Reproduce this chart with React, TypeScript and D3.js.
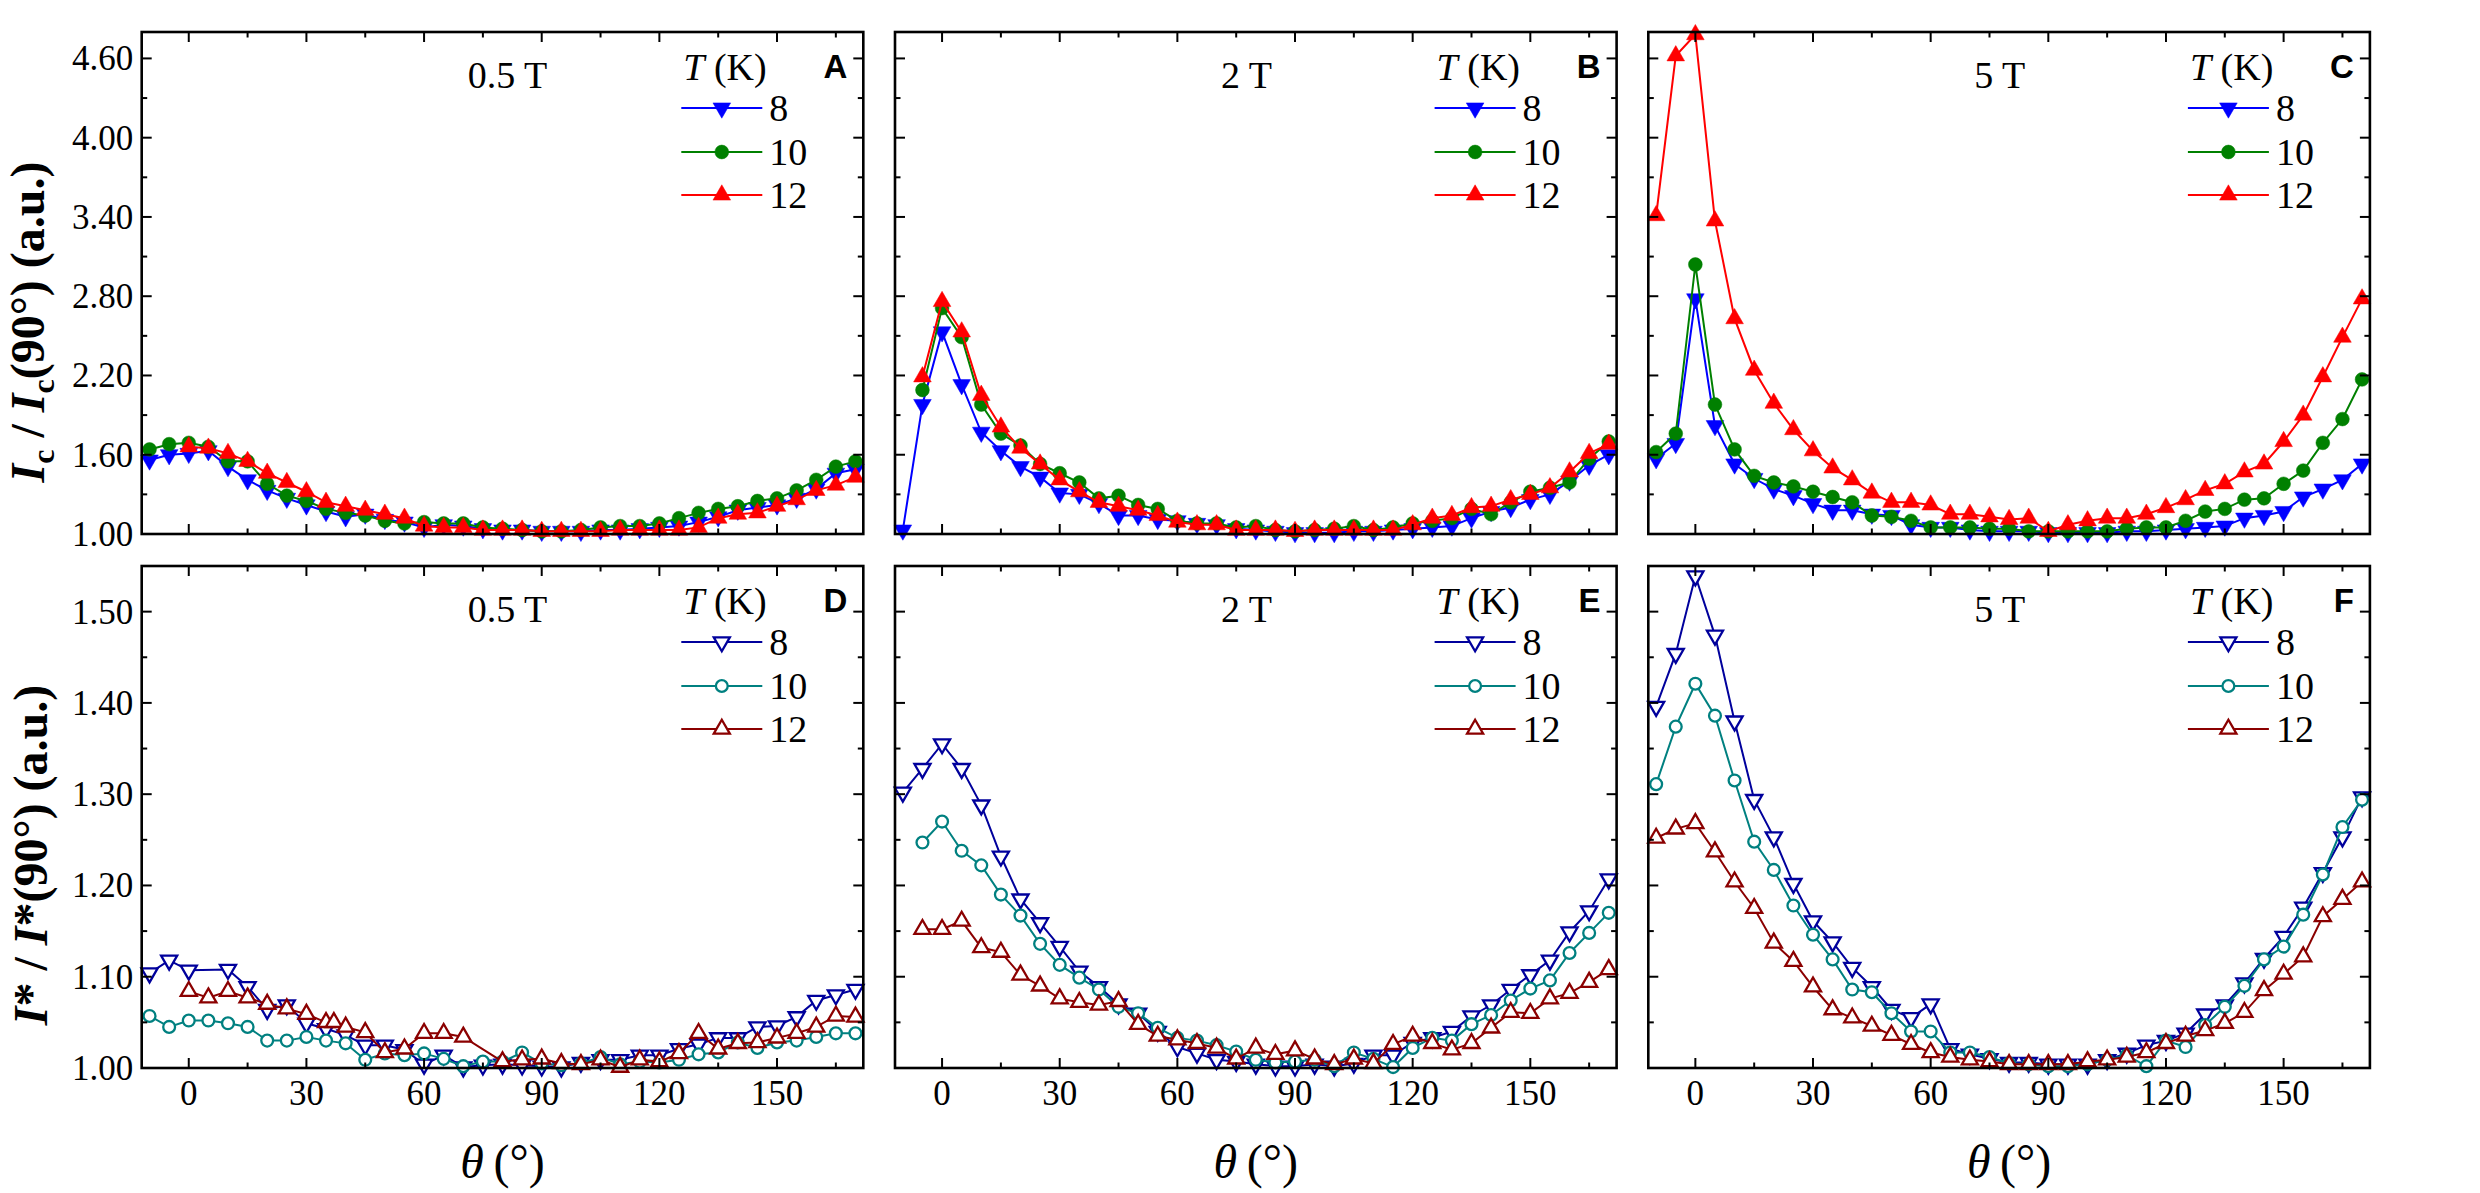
import React from 'react';
import * as d3 from 'd3';

// ---------- data ----------
const THETA = [-10, -5, 0, 5, 10, 15, 20, 25, 30, 35, 40, 45, 50, 55, 60, 65, 70, 75, 80, 85, 90, 95, 100, 105, 110, 115, 120, 125, 130, 135, 140, 145, 150, 155, 160, 165, 170];
const THETA_D12 = [0, 5, 10, 15, 20, 25, 30, 35, 37, 40, 45, 50, 55, 60, 65, 70, 80, 85, 90, 95, 100, 105, 110, 115, 120, 125, 130, 135, 140, 145, 150, 155, 160, 165, 170];

const FIELDS = ['0.5 T', '2 T', '5 T'];
const TEMPS = ['8', '10', '12'];
const LETTERS_TOP = ['A', 'B', 'C'];
const LETTERS_BOTTOM = ['D', 'E', 'F'];

const X_TICKS = [0, 30, 60, 90, 120, 150];
const X_MINOR = [15, 45, 75, 105, 135, 165];
const Y_TICKS_IC = [1.0, 1.6, 2.2, 2.8, 3.4, 4.0, 4.6];
const Y_MINOR_IC = [1.3, 1.9, 2.5, 3.1, 3.7, 4.3];
const Y_TICKS_IS = [1.0, 1.1, 1.2, 1.3, 1.4, 1.5];
const Y_MINOR_IS = [1.05, 1.15, 1.25, 1.35, 1.45];

// Ic / Ic(90) — 0.5 T
const A8 = [1.56, 1.60, 1.61, 1.63, 1.51, 1.41, 1.33, 1.27, 1.22, 1.17, 1.13, 1.15, 1.11, 1.09, 1.05, 1.07, 1.06, 1.04, 1.03, 1.03, 1.02, 1.02, 1.02, 1.03, 1.03, 1.04, 1.05, 1.06, 1.09, 1.13, 1.18, 1.20, 1.22, 1.27, 1.34, 1.46, 1.49];
const A10 = [1.64, 1.68, 1.69, 1.66, 1.55, 1.55, 1.38, 1.29, 1.25, 1.19, 1.16, 1.14, 1.10, 1.08, 1.09, 1.08, 1.08, 1.05, 1.04, 1.03, 1.02, 1.02, 1.03, 1.05, 1.06, 1.06, 1.08, 1.12, 1.16, 1.19, 1.21, 1.25, 1.27, 1.33, 1.41, 1.51, 1.55];
const A12 = [null, null, 1.66, 1.65, 1.61, 1.55, 1.46, 1.39, 1.32, 1.24, 1.21, 1.18, 1.15, 1.12, 1.06, 1.05, 1.05, 1.03, 1.03, 1.03, 1.02, 1.02, 1.02, 1.02, 1.03, 1.03, 1.03, 1.03, 1.05, 1.12, 1.15, 1.16, 1.21, 1.26, 1.33, 1.37, 1.43];
// 2 T
const B8 = [1.03, 1.98, 2.53, 2.13, 1.77, 1.63, 1.51, 1.43, 1.31, 1.30, 1.23, 1.14, 1.14, 1.11, 1.10, 1.08, 1.07, 1.04, 1.03, 1.02, 1.01, 1.01, 1.01, 1.02, 1.02, 1.03, 1.04, 1.05, 1.06, 1.12, 1.17, 1.20, 1.26, 1.30, 1.40, 1.52, 1.60];
const B10 = [null, 2.09, 2.71, 2.49, 1.98, 1.76, 1.67, 1.53, 1.46, 1.39, 1.27, 1.29, 1.22, 1.19, 1.10, 1.08, 1.08, 1.05, 1.06, 1.03, 1.02, 1.03, 1.04, 1.06, 1.03, 1.05, 1.08, 1.10, 1.12, 1.19, 1.15, 1.24, 1.32, 1.35, 1.39, 1.57, 1.70];
const B12 = [null, 2.19, 2.76, 2.53, 2.05, 1.81, 1.65, 1.53, 1.41, 1.32, 1.24, 1.21, 1.18, 1.14, 1.09, 1.07, 1.07, 1.03, 1.03, 1.03, 1.02, 1.03, 1.03, 1.03, 1.03, 1.03, 1.07, 1.12, 1.14, 1.20, 1.21, 1.26, 1.30, 1.35, 1.47, 1.61, 1.68];
// 5 T
const C8 = [1.57, 1.685, 2.78, 1.82, 1.53, 1.42, 1.34, 1.29, 1.23, 1.18, 1.18, 1.15, 1.14, 1.07, 1.05, 1.05, 1.03, 1.02, 1.02, 1.02, 1.01, 1.01, 1.01, 1.01, 1.02, 1.02, 1.03, 1.04, 1.05, 1.06, 1.12, 1.14, 1.17, 1.28, 1.34, 1.41, 1.53];
const C10 = [1.62, 1.76, 3.04, 1.98, 1.64, 1.44, 1.39, 1.36, 1.32, 1.28, 1.24, 1.14, 1.13, 1.10, 1.05, 1.05, 1.05, 1.04, 1.04, 1.02, 1.02, 1.02, 1.02, 1.02, 1.04, 1.05, 1.05, 1.10, 1.17, 1.19, 1.26, 1.27, 1.38, 1.48, 1.69, 1.87, 2.17];
const C12 = [3.41, 4.62, 4.78, 3.37, 2.63, 2.24, 1.99, 1.79, 1.63, 1.50, 1.41, 1.31, 1.24, 1.24, 1.22, 1.15, 1.15, 1.13, 1.11, 1.12, 1.02, 1.07, 1.10, 1.12, 1.12, 1.15, 1.20, 1.26, 1.33, 1.38, 1.47, 1.53, 1.70, 1.90, 2.19, 2.49, 2.78];

// I* / I*(90) — 0.5 T
const D8 = [1.104, 1.118, 1.107, null, 1.108, 1.089, 1.064, 1.069, 1.049, 1.043, 1.036, 1.025, 1.025, 1.020, 1.004, 1.014, 1.001, 1.003, 1.004, 1.003, 1.002, 1.001, 1.006, 1.009, 1.009, 1.014, 1.014, 1.021, 1.026, 1.033, 1.033, 1.045, 1.046, 1.056, 1.074, 1.080, 1.086];
const D10 = [1.057, 1.045, 1.052, 1.052, 1.049, 1.045, 1.030, 1.030, 1.034, 1.030, 1.027, 1.009, 1.016, 1.014, 1.016, 1.010, 1.002, 1.007, 1.007, 1.017, 1.005, 1.003, 1.005, 1.012, 1.004, 1.007, 1.006, 1.009, 1.015, 1.017, 1.028, 1.022, 1.028, 1.030, 1.034, 1.038, 1.038];
const D12 = [1.084, 1.077, 1.084, 1.077, 1.070, 1.065, 1.059, 1.050, 1.050, 1.045, 1.039, 1.017, 1.021, 1.038, 1.038, 1.034, 1.007, 1.009, 1.010, 1.005, 1.004, 1.009, 1.001, 1.009, 1.007, 1.016, 1.038, 1.021, 1.027, 1.028, 1.033, 1.038, 1.045, 1.057, 1.056];
// 2 T
const E8 = [1.302, 1.328, 1.355, 1.328, 1.288, 1.232, 1.185, 1.159, 1.133, 1.106, 1.089, 1.070, 1.060, 1.040, 1.023, 1.016, 1.009, 1.007, 1.004, 1.002, 1.002, 1.004, 1.002, 1.005, 1.014, 1.014, 1.028, 1.033, 1.040, 1.057, 1.069, 1.086, 1.102, 1.118, 1.149, 1.172, 1.207];
const E10 = [null, 1.247, 1.270, 1.238, 1.222, 1.190, 1.167, 1.136, 1.113, 1.099, 1.086, 1.067, 1.060, 1.044, 1.033, 1.030, 1.025, 1.018, 1.009, 1.006, 1.007, 1.009, 1.002, 1.017, 1.010, 1.001, 1.022, 1.033, 1.030, 1.048, 1.058, 1.074, 1.087, 1.096, 1.126, 1.148, 1.170];
const E12 = [null, 1.152, 1.152, 1.161, 1.132, 1.127, 1.102, 1.090, 1.076, 1.072, 1.069, 1.073, 1.048, 1.035, 1.031, 1.027, 1.022, 1.010, 1.022, 1.015, 1.019, 1.010, 1.004, 1.010, 1.005, 1.026, 1.035, 1.027, 1.020, 1.027, 1.044, 1.061, 1.060, 1.076, 1.082, 1.094, 1.108];
// 5 T
const F8 = [1.396, 1.454, 1.539, 1.474, 1.380, 1.294, 1.253, 1.202, 1.161, 1.138, 1.110, 1.089, 1.064, 1.055, 1.070, 1.021, 1.015, 1.010, 1.006, 1.006, 1.004, 1.004, 1.004, 1.009, 1.016, 1.025, 1.030, 1.038, 1.059, 1.069, 1.093, 1.120, 1.144, 1.176, 1.214, 1.253, 1.297];
const F10 = [1.311, 1.374, 1.421, 1.386, 1.315, 1.248, 1.217, 1.178, 1.146, 1.119, 1.086, 1.083, 1.060, 1.040, 1.040, 1.017, 1.017, 1.012, 1.005, 1.004, 1.002, 1.002, 1.004, 1.009, 1.014, 1.002, 1.030, 1.023, 1.047, 1.067, 1.090, 1.119, 1.133, 1.168, 1.212, 1.264, 1.294];
const F12 = [1.252, 1.262, 1.268, 1.237, 1.204, 1.175, 1.137, 1.117, 1.089, 1.064, 1.055, 1.046, 1.036, 1.026, 1.017, 1.012, 1.009, 1.007, 1.004, 1.004, 1.004, 1.004, 1.007, 1.009, 1.012, 1.017, 1.027, 1.035, 1.041, 1.049, 1.061, 1.085, 1.103, 1.122, 1.166, 1.185, 1.204];

// ---------- layout ----------
const W = 2480;
const H = 1193;
const LEFTS = [141.7, 895, 1648.3];
const PW = 721.6;
const ROWS = [
  { top: 32, bottom: 534 },
  { top: 566, bottom: 1068 },
];
const SERIF = '"Liberation Serif", "Times New Roman", serif';
const SANS = '"Liberation Sans", Arial, sans-serif';

const TOP_STYLES = [
  { color: '#0000FF', shape: 'down', filled: true },
  { color: '#008000', shape: 'circle', filled: true },
  { color: '#FF0000', shape: 'up', filled: true },
];
const BOTTOM_STYLES = [
  { color: '#00009C', shape: 'down', filled: false },
  { color: '#008080', shape: 'circle', filled: false },
  { color: '#8B0000', shape: 'up', filled: false },
];

type Style = { color: string; shape: string; filled: boolean };

function Marker({ x, y, st }: { x: number; y: number; st: Style }) {
  const filled = st.filled;
  const size = st.shape === 'circle' ? (filled ? 150 : 110) : filled ? 135 : 112;
  const type = st.shape === 'circle' ? d3.symbolCircle : d3.symbolTriangle;
  const d = d3.symbol().type(type).size(size)() as string;
  const rot = st.shape === 'down' ? 180 : 0;
  return (
    <path
      d={d}
      transform={`translate(${x},${y}) rotate(${rot})`}
      fill={filled ? st.color : '#ffffff'}
      stroke={st.color}
      strokeWidth={filled ? 0.5 : 2.3}
    />
  );
}

type Series = { xs: number[]; ys: (number | null)[]; st: Style };

function Panel(props: {
  col: number;
  row: number;
  series: Series[];
  yDomain: [number, number];
  yMajor: number[];
  yMinor: number[];
  yFmt: (v: number) => string;
  field: string;
  letter: string;
}) {
  const { col, row, series, yDomain, yMajor, yMinor, yFmt, field, letter } = props;
  const left = LEFTS[col];
  const right = left + PW;
  const { top, bottom } = ROWS[row];
  const x = d3.scaleLinear().domain([-12, 172]).range([left, right]);
  const y = d3.scaleLinear().domain(yDomain).range([bottom, top]);
  const line = d3
    .line<[number, number]>()
    .x((d) => x(d[0]))
    .y((d) => y(d[1]));
  const MAJ = 10;
  const MIN = 5.5;
  const tickStroke = { stroke: '#000', strokeWidth: 2 };
  const legendRows = [76, 120, 163];

  return (
    <g>
      {series.map((s, si) => {
        const pts: [number, number][] = [];
        s.xs.forEach((t, i) => {
          const v = s.ys[i];
          if (v !== null && v !== undefined) pts.push([t, v]);
        });
        return (
          <g key={si}>
            <path d={line(pts) as string} fill="none" stroke={s.st.color} strokeWidth={2} />
            {pts.map((p, i) => (
              <Marker key={i} x={x(p[0])} y={y(p[1])} st={s.st} />
            ))}
          </g>
        );
      })}
      <rect x={left} y={top} width={PW} height={bottom - top} fill="none" stroke="#000" strokeWidth={2.6} />
      {X_TICKS.map((t) => (
        <g key={'xm' + t}>
          <line x1={x(t)} x2={x(t)} y1={bottom} y2={bottom - MAJ} {...tickStroke} />
          <line x1={x(t)} x2={x(t)} y1={top} y2={top + MAJ} {...tickStroke} />
        </g>
      ))}
      {X_MINOR.map((t) => (
        <g key={'xn' + t}>
          <line x1={x(t)} x2={x(t)} y1={bottom} y2={bottom - MIN} {...tickStroke} />
          <line x1={x(t)} x2={x(t)} y1={top} y2={top + MIN} {...tickStroke} />
        </g>
      ))}
      {yMajor.map((v) => (
        <g key={'ym' + v}>
          <line x1={left} x2={left + MAJ} y1={y(v)} y2={y(v)} {...tickStroke} />
          <line x1={right} x2={right - MAJ} y1={y(v)} y2={y(v)} {...tickStroke} />
        </g>
      ))}
      {yMinor.map((v) => (
        <g key={'yn' + v}>
          <line x1={left} x2={left + MIN} y1={y(v)} y2={y(v)} {...tickStroke} />
          <line x1={right} x2={right - MIN} y1={y(v)} y2={y(v)} {...tickStroke} />
        </g>
      ))}
      {col === 0 &&
        yMajor.map((v) => (
          <text key={'yl' + v} x={left - 8.5} y={y(v) + 12} textAnchor="end" fontFamily={SERIF} fontSize={35} fill="#000">
            {yFmt(v)}
          </text>
        ))}
      {row === 1 &&
        X_TICKS.map((t) => (
          <text key={'xl' + t} x={x(t)} y={1105} textAnchor="middle" fontFamily={SERIF} fontSize={35} fill="#000">
            {t}
          </text>
        ))}
      <text x={left + 326} y={top + 56} fontFamily={SERIF} fontSize={38} fill="#000">
        {field}
      </text>
      <text x={right - 16} y={top + 46} textAnchor="end" fontFamily={SANS} fontWeight="bold" fontSize={33} fill="#000">
        {letter}
      </text>
      <text x={right - 180} y={top + 48} fontFamily={SERIF} fontSize={38} fill="#000">
        <tspan fontStyle="italic" fontFamily={SERIF}>T</tspan>
        <tspan fontFamily={SERIF}> (K)</tspan>
      </text>
      {series.map((s, si) => {
        const ly = top + legendRows[si];
        return (
          <g key={'lg' + si}>
            <line x1={right - 182} x2={right - 101} y1={ly} y2={ly} stroke={s.st.color} strokeWidth={2} />
            <Marker x={right - 141.5} y={ly} st={s.st} />
            <text x={right - 94} y={ly + 13} fontFamily={SERIF} fontSize={38} fill="#000">
              {TEMPS[si]}
            </text>
          </g>
        );
      })}
    </g>
  );
}

export default function App() {
  const topData = [
    [A8, A10, A12],
    [B8, B10, B12],
    [C8, C10, C12],
  ];
  const bottomData = [
    [D8, D10, D12],
    [E8, E10, E12],
    [F8, F10, F12],
  ];
  const fmt2 = (v: number) => v.toFixed(2);

  return (
    <svg
      width={W}
      height={H}
      viewBox={`0 0 ${W} ${H}`}
      style={{ position: 'absolute', left: 0, top: 0, background: '#fff' }}
    >
      <rect x={0} y={0} width={W} height={H} fill="#fff" />
      {topData.map((arrs, c) => (
        <Panel
          key={'t' + c}
          col={c}
          row={0}
          series={arrs.map((ys, i) => ({ xs: THETA, ys, st: TOP_STYLES[i] }))}
          yDomain={[1.0, 4.8]}
          yMajor={Y_TICKS_IC}
          yMinor={Y_MINOR_IC}
          yFmt={fmt2}
          field={FIELDS[c]}
          letter={LETTERS_TOP[c]}
        />
      ))}
      {bottomData.map((arrs, c) => (
        <Panel
          key={'b' + c}
          col={c}
          row={1}
          series={arrs.map((ys, i) => ({
            xs: c === 0 && i === 2 ? THETA_D12 : THETA,
            ys,
            st: BOTTOM_STYLES[i],
          }))}
          yDomain={[1.0, 1.55]}
          yMajor={Y_TICKS_IS}
          yMinor={Y_MINOR_IS}
          yFmt={fmt2}
          field={FIELDS[c]}
          letter={LETTERS_BOTTOM[c]}
        />
      ))}
      <text
        transform="translate(44,322) rotate(-90)"
        textAnchor="middle"
        fontFamily={SERIF}
        fontWeight="bold"
        fontSize={48}
        fill="#000"
      >
        <tspan fontStyle="italic">I</tspan>
        <tspan fontSize={32} dy={10}>c</tspan>
        <tspan dy={-10}>{' / '}</tspan>
        <tspan fontStyle="italic">I</tspan>
        <tspan fontSize={32} dy={10}>c</tspan>
        <tspan dy={-10}>(90°) (a.u.)</tspan>
      </text>
      <text
        transform="translate(47,855) rotate(-90)"
        textAnchor="middle"
        fontFamily={SERIF}
        fontWeight="bold"
        fontSize={48}
        fill="#000"
      >
        <tspan fontStyle="italic">I</tspan>
        <tspan>{'* / '}</tspan>
        <tspan fontStyle="italic">I</tspan>
        <tspan>*(90°) (a.u.)</tspan>
      </text>
      {LEFTS.map((l, i) => (
        <text key={'xt' + i} x={l + PW / 2} y={1178} textAnchor="middle" fontFamily={SERIF} fontSize={48} fill="#000">
          <tspan fontStyle="italic">θ</tspan>
          <tspan>{'\u2009(°)'}</tspan>
        </text>
      ))}
    </svg>
  );
}
